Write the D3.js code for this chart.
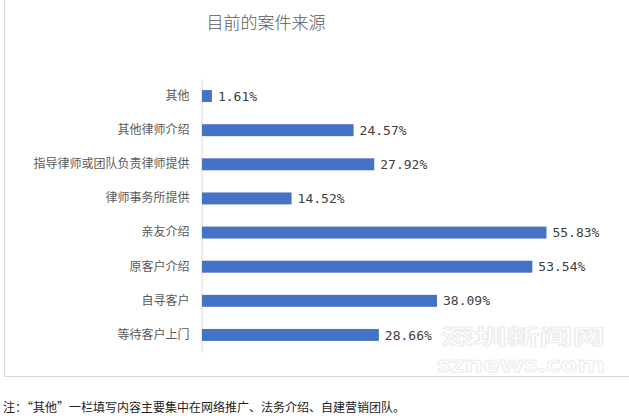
<!DOCTYPE html>
<html>
<head>
<meta charset="utf-8">
<script src="https://cdn.jsdelivr.net/npm/d3@7"></script>
<style>
  body { margin: 0; background: #fff; }
  svg { display: block; }
</style>
</head>
<body>
<div id="bar-chart"></div>
<script>
const categories = ["其他", "其他律师介绍", "指导律师或团队负责律师提供", "律师事务所提供",
    "亲友介绍", "原客户介绍", "自寻客户", "等待客户上门"];
const values = [1.61, 24.57, 27.92, 14.52, 55.83, 53.54, 38.09, 28.66];
const title = "目前的案件来源";
const note = "注：“其他”一栏填写内容主要集中在网络推广、法务介绍、自建营销团队。";

function initBarChart(selector) {
    const width = 629, height = 418;
    const left = 202, top = 79, bottom = 352;

    const svg = d3.select(selector).append("svg")
        .attr("width", width)
        .attr("height", height);

    // frame of the chart area
    svg.append("path")
        .attr("d", "M4.5,-1 V376.5 H640")
        .attr("fill", "none")
        .attr("stroke", "#d9d9d9");

    svg.append("text")
        .attr("x", 266).attr("y", 29)
        .attr("text-anchor", "middle")
        .attr("font-family", "Noto Sans CJK SC")
        .attr("font-weight", 300)
        .attr("font-size", 17)
        .attr("fill", "#595959")
        .text(title);

    const x = d3.scaleLinear().domain([0, 60]).range([left, left + 60 * 6.17]);
    const y = d3.scaleBand().domain(categories).range([top, bottom]).paddingInner(0.65).paddingOuter(0.325);

    const yAxis = svg.append("g")
        .attr("transform", `translate(${left - 0.5},0)`)
        .call(d3.axisLeft(y).tickSize(0).tickPadding(12));
    yAxis.select(".domain").attr("stroke", "#d9d9d9");
    yAxis.selectAll("text")
        .attr("font-family", "Noto Sans CJK SC")
        .attr("font-size", 12)
        .attr("fill", "#595959");

    svg.append("g").selectAll("rect")
        .data(values)
        .join("rect")
        .attr("x", x(0))
        .attr("y", (d, i) => y(categories[i]))
        .attr("width", d => x(d) - x(0))
        .attr("height", y.bandwidth())
        .attr("fill", "#4472c4");

    svg.append("g").selectAll("text")
        .data(values)
        .join("text")
        .attr("x", d => x(d) + 6)
        .attr("y", (d, i) => y(categories[i]) + y.bandwidth() / 2)
        .attr("dy", "0.36em")
        .attr("font-family", "DejaVu Sans Mono")
        .attr("font-size", 13)
        .attr("fill", "#404040")
        .text(d => d.toFixed(2) + "%");

    // watermark
    const wm = svg.append("g")
        .attr("fill", "#ffffff")
        .attr("stroke", "#ececec")
        .attr("stroke-width", 1)
        .attr("font-weight", "bold");
    wm.append("text")
        .attr("x", 441).attr("y", 344)
        .attr("font-family", "Noto Sans CJK SC")
        .attr("font-size", 21)
        .attr("textLength", 164)
        .attr("lengthAdjust", "spacingAndGlyphs")
        .text("深圳新闻网");
    wm.append("text")
        .attr("x", 437).attr("y", 372)
        .attr("font-family", "Open Sans")
        .attr("font-size", 22)
        .attr("textLength", 168)
        .attr("lengthAdjust", "spacingAndGlyphs")
        .text("sznews.com");

    svg.append("text")
        .attr("x", 3).attr("y", 412)
        .attr("font-family", "Noto Sans CJK SC")
        .attr("font-size", 12)
        .attr("fill", "#222")
        .text(note);
}

document.addEventListener('DOMContentLoaded', function () {
    initBarChart("#bar-chart");
});
</script>
</body>
</html>
